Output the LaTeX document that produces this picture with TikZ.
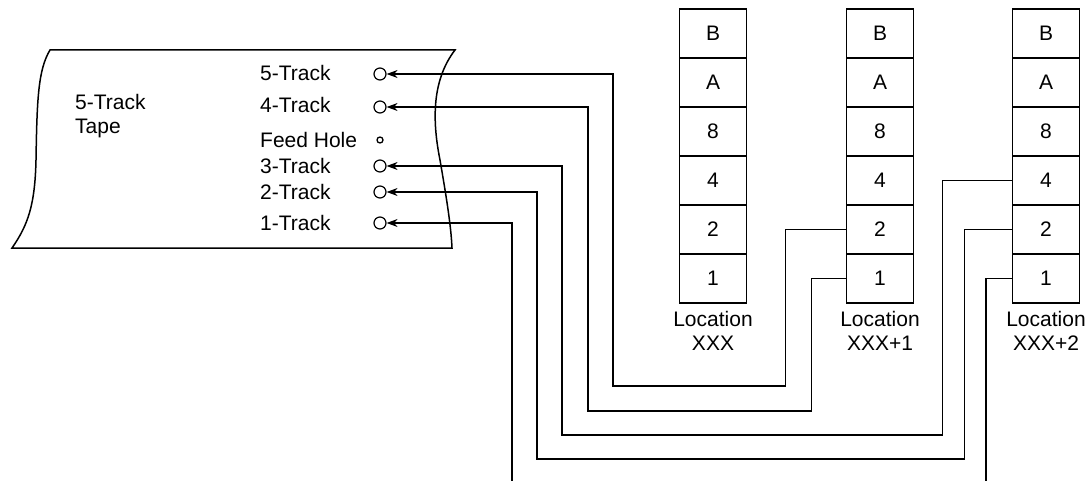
\documentclass[tikz,border=0pt]{standalone}
\usepackage{fontspec}
\setmainfont{Liberation Sans}
\usetikzlibrary{arrows.meta,positioning}
\begin{document}
\begin{tikzpicture}[x=1pt,y=-1pt,
		cell/.style={draw,line width=1.4pt,minimum width=67pt,minimum height=49pt,inner sep=0pt},
		hole/.style={draw,circle,line width=1.2pt,minimum size=12pt,inner sep=0pt},
		feed/.style={draw,circle,line width=1.3pt,minimum size=6pt,inner sep=0pt},
		track/.style={anchor=west,inner sep=0pt},
		wire/.style={line width=1.2pt},
		lead/.style={wire,-{Stealth[length=11pt,width=8pt]}},
		every node/.append style={font=\fontsize{21}{24}\selectfont}]
	\useasboundingbox (0,0) rectangle (1089,481);
	\draw[line width=1.5pt] (50,50) -- (455,50) .. controls (432,80) and (432,120) .. (440,160) .. controls (446,195) and (451,225) .. (452,248) -- (12,248) .. controls (28,225) and (35,205) .. (36,160) .. controls (37,100) and (38,70) .. (50,50) -- cycle;
	\node[anchor=west,align=left,inner sep=0pt] (tape) at (75,116) {5-Track\\Tape};
	\foreach \n/\y/\t in {5/73/5-Track,4/105/4-Track,f/140/Feed Hole,3/166/3-Track,2/192/2-Track,1/223/1-Track}
		\node[track] (t\n) at (260,\y) {\t};
	\foreach \n/\y in {5/74,4/107,3/166,2/192,1/223}
		\node[hole] (h\n) at (380,\y) {};
	\node[feed] (hf) at (380,140) {};
	\foreach \c/\x/\l in {0/713/XXX,1/880/XXX+1,2/1046/XXX+2} {
		\foreach \r [count=\i from 0] in {B,A,8,4,2,1}
			\node[cell] (b\c-\r) at (\x,{33.5+49*\i}) {\r};
		\node[below=7pt of b\c-1,align=center,inner sep=0pt] (loc\c) {Location\\\l};
	}
	\coordinate (out1) at (512,481);
	\coordinate (in1) at (986,481);
	\draw[lead] (b1-2.west) -- ++(-60,0) |- (613,386) |- (h5.east);
	\draw[lead] (b1-1.west) -- ++(-34.5,0) |- (588,411) |- (h4.east);
	\draw[lead] (b2-4.west) -- ++(-69.5,0) |- (562,435) |- (h3.east);
	\draw[lead] (b2-2.west) -- ++(-47.5,0) |- (537,459) |- (h2.east);
	\draw[lead] (out1) |- (h1.east);
	\draw[wire] (b2-1.west) -| (in1);
\end{tikzpicture}
\end{document}
